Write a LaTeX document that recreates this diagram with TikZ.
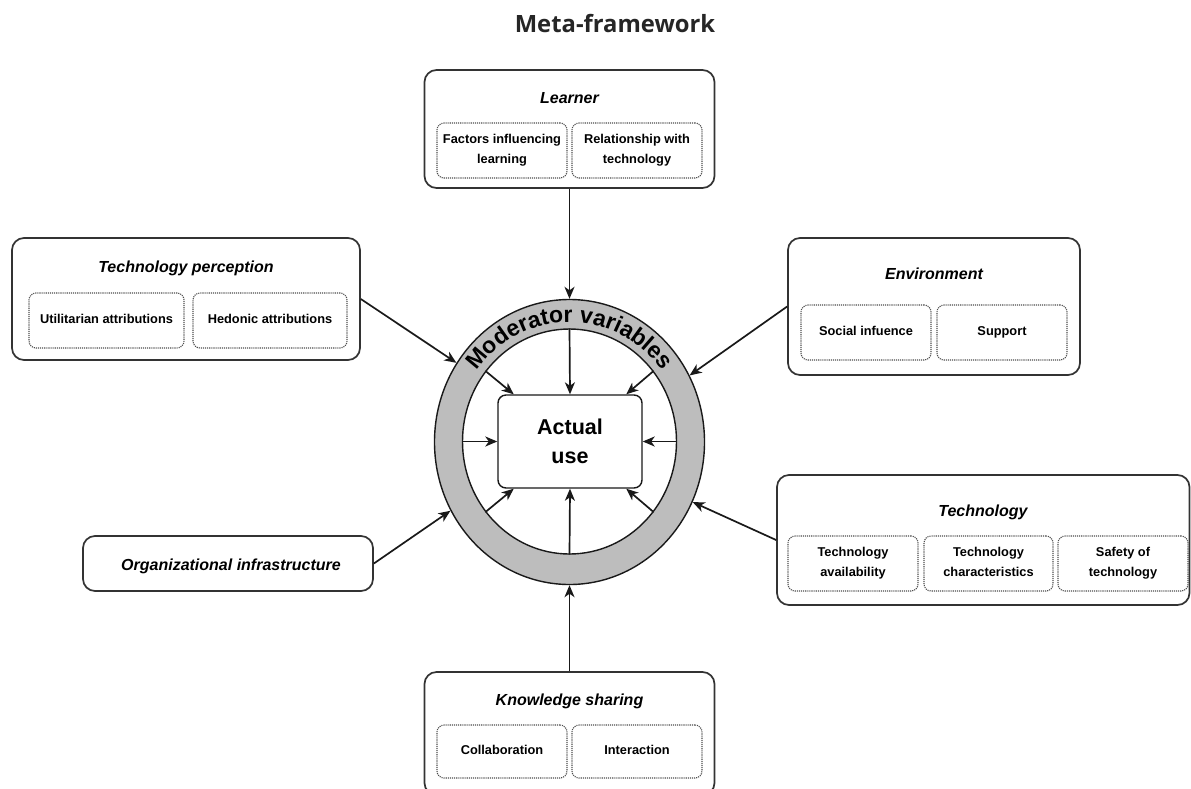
\documentclass[tikz,border=0pt]{standalone}
\usepackage{fontspec}
\setmainfont{Liberation Sans}
\newfontfamily\titlefont{Open Sans}
\usetikzlibrary{shapes.geometric,arrows.meta,decorations.text}
\definecolor{ringgray}{HTML}{BDBDBD}
\begin{document}
\begin{tikzpicture}[x=1pt,y=-1pt,
  outerbox/.style={draw=black!80, line width=1.7pt, rounded corners=12pt, inner sep=0pt, fill=white},
  subbox/.style={draw=black!70, densely dotted, line width=1.1pt, rounded corners=7pt, inner sep=0pt,
    align=center, font=\fontsize{12.8}{20}\selectfont\bfseries},
  subone/.style={subbox, text height=9.3pt, text depth=2.7pt},
  boxtitle/.style={font=\fontsize{16}{19}\selectfont\bfseries\itshape, inner sep=0pt, anchor=base},
  arr/.style={-{Stealth[length=12pt,width=10pt,inset=3.5pt]}, line width=1.7pt, draw=black!90},
]
\useasboundingbox (0,0) rectangle (1191,788);
\fill[white] (0,0) rectangle (1191,788);
\clip (0,0) rectangle (1191,788);

% title
\node[font=\titlefont\fontsize{23.8}{28}\selectfont\bfseries, text=black!85, inner sep=0pt, anchor=base] (title) at (615,32) {Meta-framework};

% Learner
\node[outerbox, minimum width=290pt, minimum height=118pt] (learner) at (569.5,129) {};
\node[boxtitle] (learnerT) at (569.5,103.5) {Learner};
\node[subbox, minimum width=130pt, minimum height=55pt] (lf) at (502,150.5) {Factors influencing\\learning};
\node[subbox, minimum width=130pt, minimum height=55pt] (lr) at (637,150.5) {Relationship with\\technology};

% Technology perception
\node[outerbox, minimum width=348pt, minimum height=122pt] (tp) at (186,299) {};
\node[boxtitle] (tpT) at (186,272.7) {Technology perception};
\node[subone, minimum width=155pt, minimum height=55pt] (tpu) at (106.5,320.5) {Utilitarian attributions};
\node[subone, minimum width=154pt, minimum height=55pt] (tph) at (270,320.5) {Hedonic attributions};

% Environment
\node[outerbox, minimum width=292pt, minimum height=137pt] (env) at (934,306.5) {};
\node[boxtitle] (envT) at (934,279.3) {Environment};
\node[subone, minimum width=130pt, minimum height=55pt] (envs) at (866,332.5) {Social infuence};
\node[subone, minimum width=130pt, minimum height=55pt] (envp) at (1002,332.5) {Support};

% Technology
\node[outerbox, minimum width=412.5pt, minimum height=130pt] (tech) at (983.25,540) {};
\node[boxtitle] (techT) at (983,516.7) {Technology};
\node[subbox, minimum width=130pt, minimum height=55pt] (techa) at (853,563.5) {Technology\\availability};
\node[subbox, minimum width=129pt, minimum height=55pt] (techc) at (988.5,563.5) {Technology\\characteristics\vphantom{y}};
\node[subbox, minimum width=130pt, minimum height=55pt] (techs) at (1123,563.5) {Safety of\\technology};

% Organizational infrastructure
\node[outerbox, minimum width=290pt, minimum height=55pt] (org) at (228,563.5) {};
\node[boxtitle] (orgT) at (231,570) {Organizational infrastructure};

% Knowledge sharing
\node[outerbox, minimum width=290pt, minimum height=123pt] (ks) at (569.5,733.5) {};
\node[boxtitle] (ksT) at (569.5,705) {Knowledge sharing};
\node[subone, minimum width=130pt, minimum height=53pt] (ksc) at (502,751.5) {Collaboration};
\node[subone, minimum width=130pt, minimum height=53pt] (ksi) at (637,751.5) {Interaction};

% ring
\node[ellipse, draw=black!90, line width=1.4pt, fill=ringgray, minimum width=270pt, minimum height=285pt, inner sep=0pt] (ring) at (569.5,442) {};
\node[ellipse, draw=black!90, line width=1.4pt, fill=white, minimum width=214pt, minimum height=225pt, inner sep=0pt] (inring) at (569.5,441.5) {};
\path[decorate, decoration={text along path, text align=center,
  text={|\fontsize{23}{23}\selectfont\bfseries|Moderator variables}}]
  (569.5,441.5) ++(180:115pt and 119.5pt) arc[start angle=180, end angle=0, x radius=115pt, y radius=119.5pt];

% actual use
\node[draw=black!90, line width=1.4pt, rounded corners=8pt, fill=white, minimum width=144pt, minimum height=93pt,
  align=center, font=\fontsize{21.5}{29}\selectfont\bfseries, inner sep=0pt] (au) at (570,441.5) {Actual\\use};

% outer arrows
\draw[arr] (learner.south) -- (ring.north);
\draw[arr] (tp.east) -- (ring.145);
\draw[arr] (env.west) -- (ring.29);
\draw[arr] (tech.west) -- (ring.-26);
\draw[arr] (org.east) -- (ring.210);
\draw[arr] (ks.north) -- (ring.south);

% inner arrows
\draw[arr] (inring.north) -- (au.north);
\draw[arr] (inring.south) -- (au.south);
\draw[arr] (inring.west) -- (au.west);
\draw[arr] (inring.east) -- (au.east);
\draw[arr] (inring.140) -- (au.140);
\draw[arr] (inring.40) -- (au.40);
\draw[arr] (inring.220) -- (au.220);
\draw[arr] (inring.320) -- (au.320);
\end{tikzpicture}
\end{document}
